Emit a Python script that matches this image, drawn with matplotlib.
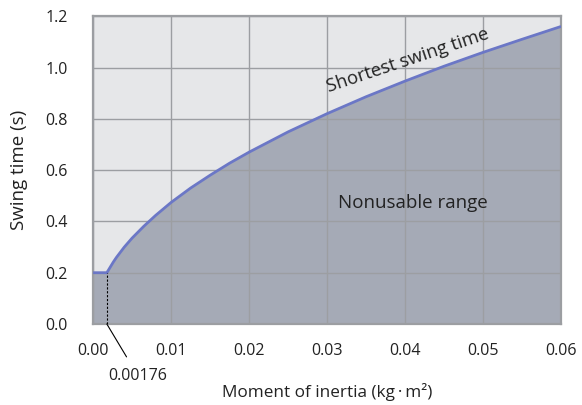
import matplotlib
matplotlib.use("Agg")
import matplotlib.pyplot as plt

plt.rcParams['font.family'] = ['Open Sans', 'DejaVu Sans']

# data
inertia = [0.0, 0.00176, 0.0022, 0.0026, 0.003, 0.004, 0.005, 0.0065, 0.008, 0.01,
           0.0125, 0.015, 0.0175, 0.02, 0.025, 0.03, 0.035, 0.04, 0.045, 0.05, 0.055, 0.06]
swing_time = [0.2, 0.2, 0.222, 0.242, 0.26, 0.3, 0.335, 0.381, 0.423, 0.474,
              0.53, 0.58, 0.627, 0.67, 0.749, 0.82, 0.886, 0.947, 1.005, 1.059, 1.11, 1.16]
xticks = [0.0, 0.01, 0.02, 0.03, 0.04, 0.05, 0.06]
xticklabels = ["0.00", "0.01", "0.02", "0.03", "0.04", "0.05", "0.06"]
yticks = [0.0, 0.2, 0.4, 0.6, 0.8, 1.0, 1.2]
yticklabels = ["0.0", "0.2", "0.4", "0.6", "0.8", "1.0", "1.2"]
marker_x = 0.00176
marker_y = 0.2

fig = plt.figure(figsize=(5.82, 4.05), dpi=100)
ax = fig.add_axes([0.160, 0.200, 0.804, 0.760])
ax.set_facecolor('#e6e7e9')
ax.set_xlim(0, 0.06)
ax.set_ylim(0, 1.2)

ax.fill_between(inertia, 0, swing_time, color='#a5aab6', zorder=1, linewidth=0)
ax.set_xticks(xticks)
ax.set_xticklabels(xticklabels)
ax.set_yticks(yticks)
ax.set_yticklabels(yticklabels)
ax.grid(True, color='#9c9ea2', linewidth=1.0, zorder=2)
ax.set_axisbelow(False)
ax.plot(inertia, swing_time, color='#6b77c6', linewidth=2.0, zorder=4, solid_capstyle='butt')

ax.plot([marker_x, marker_x], [0, marker_y], color='black', linestyle=(0, (2, 1.5)),
        linewidth=0.8, zorder=5)

for s in ax.spines.values():
    s.set_color('#9c9ea2')
    s.set_linewidth(1.6)
ax.tick_params(length=0, labelsize=11.5, colors='#222222')
ax.tick_params(axis='x', pad=14)
ax.tick_params(axis='y', pad=18)

ax.annotate(f"{marker_x:.5f}", xy=(marker_x, 0), xycoords='data',
            xytext=(138 / 582, (405 - 376) / 405), textcoords='figure fraction',
            ha='center', va='center', fontsize=11.5, color='#222222',
            arrowprops=dict(arrowstyle='-', color='black', linewidth=0.8,
                            shrinkA=7, shrinkB=0, relpos=(0.5, 0.5)),
            annotation_clip=False)

ax.set_xlabel("Moment of inertia (kg\u2009·\u2009m²)", fontsize=12.3, color='#222222', labelpad=17)
ax.set_ylabel("Swing time (s)", fontsize=13.5, color='#222222', labelpad=13)

ax.text(0.0405, 1.008, "Shortest swing time", rotation=18.5, ha='center', va='baseline',
        fontsize=13.3, color='#222222', zorder=6, rotation_mode='anchor')
ax.text(0.0410, 0.473, "Nonusable range", ha='center', va='center',
        fontsize=13.5, color='#222222', zorder=6)

fig.savefig("out.png", dpi=100)
